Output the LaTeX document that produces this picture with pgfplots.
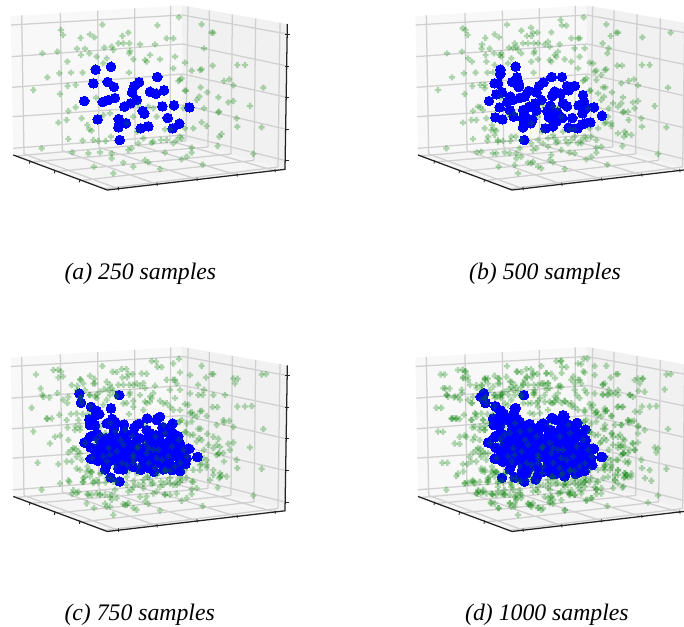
\documentclass[border=0pt]{standalone}
\usepackage{pgfplots}
\usepackage{pgfplotstable}
\usepackage{fontspec}
\setmainfont{Liberation Serif}
\pgfplotsset{compat=1.18}
% coordinates: pixels x 3, measured from each panel's corner
\pgfplotstableread[row sep=\\]{x y\\
287 209\\333 200\\323 246\\280 250\\342 261\\417 247\\403 258\\396 277\\472 231\\450 275\\468 281\\492 271\\253 303\\345 294\\325 300\\308 306\\410 300\\392 310\\373 320\\487 319\\522 316\\568 322\\428 333\\433 341\\293 358\\356 357\\378 370\\355 382\\503 354\\538 371\\518 385\\445 379\\422 385\\359 420\\
}\tBa
\pgfplotstableread[row sep=\\]{x y\\
287 222\\337 232\\270 250\\343 252\\372 273\\441 231\\487 258\\510 258\\443 288\\535 285\\538 305\\275 283\\292 277\\317 290\\360 290\\285 322\\315 330\\327 350\\272 352\\355 330\\395 332\\437 317\\433 352\\458 337\\475 310\\543 325\\592 347\\533 340\\473 354\\557 367\\533 373\\492 383\\455 365\\383 358\\360 345\\
}\tBb
\pgfplotstableread[row sep=\\]{x y\\
238 156\\243 184\\358 161\\273 196\\290 208\\298 218\\333 201\\268 233\\270 251\\285 251\\442 231\\480 226\\470 236\\518 246\\372 249\\320 246\\345 241\\410 251\\490 258\\535 284\\290 286\\270 286\\272 318\\285 326\\275 351\\315 384\\332 408\\325 306\\300 296\\350 296\\380 286\\420 291\\460 281\\440 266\\510 294\\540 306\\565 321\\593 346\\560 351\\545 336\\540 389\\515 386\\490 384\\462 391\\420 384\\400 376\\370 384\\355 381\\320 336\\340 356\\380 346\\420 346\\460 346\\500 336\\440 316\\480 316\\360 316\\400 316\\520 316\\345 336\\430 366\\470 366\\510 366\\540 366\\300 356\\
300 320\\340 320\\380 300\\420 320\\460 310\\500 310\\320 370\\360 370\\400 350\\440 350\\480 340\\520 345\\380 330\\300 336\\340 276\\400 276\\480 296\\520 276\\455 330\\500 360\\
}\tBc
\pgfplotstableread[row sep=\\]{x y\\
237 156\\228 166\\242 184\\272 194\\285 206\\297 216\\330 201\\327 216\\357 161\\265 231\\267 251\\285 256\\305 236\\375 248\\415 246\\441 229\\475 221\\455 236\\518 244\\495 251\\543 264\\543 296\\565 321\\590 346\\563 371\\550 351\\513 398\\485 391\\455 396\\445 398\\393 414\\357 418\\330 408\\292 409\\315 384\\275 286\\250 303\\280 321\\270 351\\295 361\\335 286\\365 276\\395 286\\430 286\\475 286\\515 286\\535 316\\365 306\\405 306\\435 316\\485 316\\505 331\\335 336\\375 336\\415 346\\455 346\\495 366\\530 356\\355 376\\395 376\\435 376\\475 366\\525 391\\365 396\\415 391\\315 316\\455 276\\495 276\\385 261\\
300 300\\340 350\\430 330\\470 330\\510 310\\350 395\\400 400\\440 395\\480 405\\510 380\\540 340\\320 270\\350 255\\430 265\\470 255\\
}\tBd
\pgfplotstableread[row sep=\\]{x y\\
183 90\\189 105\\307 74\\472 76\\537 52\\605 73\\635 98\\640 98\\385 98\\367 108\\270 103\\283 112\\242 114\\500 115\\520 115\\127 160\\172 155\\231 146\\255 146\\243 165\\268 160\\290 170\\313 143\\335 140\\340 150\\355 130\\370 130\\388 130\\420 133\\465 133\\450 165\\390 153\\388 160\\400 178\\435 180\\440 185\\480 178\\525 170\\555 188\\612 145\\712 195\\735 195\\202 185\\320 175\\310 190\\178 220\\142 232\\213 218\\248 218\\387 218\\520 205\\575 212\\600 210\\605 208\\638 197\\545 235\\535 243\\540 240\\672 243\\688 238\\700 256\\790 263\\100 270\\180 282\\203 258\\227 255\\288 293\\555 272\\558 272\\602 262\\622 277\\598 290\\590 300\\655 292\\685 307\\700 303\\750 318\\612 325\\655 337\\657 335\\550 325\\205 333\\227 322\\175 368\\200 360\\245 355\\310 345\\330 340\\460 325\\470 350\\400 350\\710 355\\605 367\\620 378\\712 380\\785 382\\262 375\\268 388\\275 392\\495 388\\555 385\\580 385\\205 417\\248 422\\280 420\\295 423\\317 423\\333 410\\430 415\\412 395\\455 428\\460 425\\483 420\\500 420\\520 430\\545 415\\540 410\\530 420\\665 402\\658 410\\653 438\\575 443\\125 445\\217 457\\265 460\\300 457\\335 460\\385 450\\395 445\\415 430\\495 458\\575 458\\560 470\\545 478\\335 475\\370 488\\435 480\\445 487\\400 500\\282 500\\480 507\\608 494\\340 520\\760 462\\510 388\\415 315\\445 320\\380 370\\
}\tGa
\pgfplotstableread[row sep=\\]{x y\\
174 85\\350 92\\379 83\\398 98\\381 108\\440 97\\468 60\\485 77\\618 108\\713 112\\798 98\\594 130\\608 160\\652 197\\232 133\\190 175\\245 185\\270 195\\265 217\\240 255\\240 265\\285 165\\290 160\\330 130\\325 145\\350 160\\380 185\\400 130\\430 125\\435 140\\460 155\\455 170\\500 185\\525 115\\510 145\\540 145\\565 190\\570 215\\590 225\\575 240\\595 262\\580 280\\650 250\\625 310\\650 310\\670 335\\672 360\\690 325\\640 320\\620 370\\640 400\\660 395\\680 405\\600 370\\220 320\\235 330\\215 360\\240 385\\260 390\\270 405\\250 410\\280 425\\230 455\\275 460\\315 460\\345 445\\350 470\\380 490\\385 485\\330 495\\410 505\\440 465\\470 450\\510 460\\590 440\\575 420\\560 410\\530 430\\490 430\\450 415\\430 440\\400 420\\380 430\\350 420\\320 410\\445 405\\475 395\\510 410\\610 350\\
}\tGb
\pgfplotstableread[row sep=\\]{x y\\
108 99\\160 86\\175 108\\240 114\\365 83\\338 91\\425 96\\455 59\\520 66\\540 93\\570 101\\700 111\\705 126\\785 99\\122 141\\130 166\\148 168\\215 131\\205 166\\95 199\\140 231\\155 231\\200 236\\235 236\\225 266\\150 306\\165 286\\205 296\\113 364\\250 126\\280 126\\320 121\\350 166\\420 161\\450 181\\490 186\\530 126\\570 156\\595 161\\640 161\\675 161\\755 194\\620 224\\670 236\\640 286\\605 296\\660 316\\215 326\\240 336\\230 381\\255 406\\180 426\\208 421\\235 451\\220 446\\262 458\\290 456\\300 461\\330 466\\315 486\\320 496\\260 486\\375 491\\420 466\\460 456\\530 456\\495 461\\430 426\\400 436\\480 436\\540 421\\580 421\\630 416\\660 406\\640 386\\600 386\\650 341\\620 356\\570 281\\560 246\\580 221\\540 206\\510 196\\430 206\\400 196\\370 186\\330 161\\300 151\\270 161\\240 171\\230 216\\285 126\\410 126\\300 396\\290 416\\250 421\\380 406\\340 421\\470 401\\510 426\\440 406\\275 391\\230 346\\
}\tGc
\pgfplotstableread[row sep=\\]{x y\\
120 99\\135 141\\160 166\\190 116\\110 199\\155 231\\165 233\\215 226\\115 271\\165 308\\185 286\\210 286\\128 364\\188 368\\155 404\\160 396\\190 424\\210 426\\250 111\\305 106\\410 74\\360 116\\530 68\\548 51\\470 58\\570 74\\595 129\\640 146\\690 116\\715 111\\720 151\\780 144\\620 156\\655 196\\705 211\\685 166\\600 201\\540 211\\760 321\\755 333\\735 386\\740 418\\690 326\\680 396\\640 426\\590 456\\730 483\\640 386\\610 406\\570 436\\530 446\\490 451\\510 461\\440 466\\400 451\\350 461\\320 436\\300 446\\240 391\\250 416\\225 421\\245 456\\280 436\\270 486\\330 486\\380 496\\415 501\\470 476\\500 446\\540 436\\290 161\\320 136\\350 136\\390 146\\430 126\\470 136\\510 126\\460 176\\420 181\\300 186\\250 246\\240 266\\210 256\\225 296\\225 336\\250 336\\195 346\\600 126\\650 251\\625 286\\650 316\\640 356\\670 366\\660 296\\700 276\\720 266\\280 396\\370 416\\440 426\\480 426\\520 416\\555 421\\600 376\\230 176\\
}\tGd
\pgfplotstableread[row sep=\\]{x y\\
116 140\\126 160\\151 165\\171 145\\166 175\\196 130\\216 140\\176 110\\181 90\\241 110\\231 130\\266 135\\281 110\\336 90\\316 120\\291 155\\276 165\\271 170\\311 160\\366 105\\386 95\\426 95\\451 110\\471 95\\506 105\\536 90\\416 125\\356 125\\386 155\\406 170\\426 145\\461 135\\481 180\\471 185\\501 195\\516 160\\546 155\\211 215\\201 185\\146 230\\236 235\\201 235\\356 185\\376 215\\406 215\\446 185\\396 185\\
181 425\\201 420\\221 450\\216 455\\236 445\\261 457\\281 450\\296 457\\326 445\\346 455\\321 430\\336 470\\316 485\\371 485\\281 500\\258 483\\401 498\\431 470\\446 475\\436 445\\466 455\\496 455\\476 430\\521 440\\541 420\\576 445\\546 475\\561 470\\481 505\\626 440\\656 435\\631 415\\666 400\\596 410\\436 485\\176 390\\231 388\\266 395\\
594 158\\611 158\\631 155\\676 160\\701 148\\641 195\\691 210\\671 237\\681 240\\701 253\\606 207\\576 210\\561 200\\621 223\\601 250\\631 250\\621 275\\646 280\\586 305\\641 310\\656 335\\674 325\\684 305\\636 355\\661 360\\631 400\\661 395\\671 407\\721 410\\596 380\\616 385\\
}\tGe
\pgfplotstableread[row sep=\\]{x y\\
316 275\\346 270\\376 265\\286 305\\326 320\\361 295\\396 285\\411 320\\366 365\\321 360\\351 330\\436 305\\466 285\\496 275\\516 315\\536 295\\486 355\\446 365\\416 375\\386 390\\496 385\\541 365\\561 345\\306 395\\276 350\\256 305\\301 255\\331 245\\436 250\\491 250\\
300 280\\370 310\\400 340\\440 335\\475 325\\505 345\\345 375\\400 365\\465 380\\525 375\\
}\tGf
\definecolor{paneL}{RGB}{248,248,248}
\definecolor{paneR}{RGB}{241,241,241}
\definecolor{paneF}{RGB}{245,245,245}
\definecolor{gridc}{RGB}{208,208,208}
\definecolor{spine}{RGB}{35,35,35}
\definecolor{mgreen}{RGB}{0,128,0}
\pgfdeclareplotmark{fatplus}{%
  \pgfpathmoveto{\pgfqpoint{-2.3pt}{-0.9pt}}
  \pgfpathlineto{\pgfqpoint{-0.9pt}{-0.9pt}}
  \pgfpathlineto{\pgfqpoint{-0.9pt}{-2.3pt}}
  \pgfpathlineto{\pgfqpoint{0.9pt}{-2.3pt}}
  \pgfpathlineto{\pgfqpoint{0.9pt}{-0.9pt}}
  \pgfpathlineto{\pgfqpoint{2.3pt}{-0.9pt}}
  \pgfpathlineto{\pgfqpoint{2.3pt}{0.9pt}}
  \pgfpathlineto{\pgfqpoint{0.9pt}{0.9pt}}
  \pgfpathlineto{\pgfqpoint{0.9pt}{2.3pt}}
  \pgfpathlineto{\pgfqpoint{-0.9pt}{2.3pt}}
  \pgfpathlineto{\pgfqpoint{-0.9pt}{0.9pt}}
  \pgfpathlineto{\pgfqpoint{-2.3pt}{0.9pt}}
  \pgfpathclose
  \pgfusepathqfill}
\pgfplotsset{
  panel/.style={scale only axis,hide axis,anchor=north west,y dir=reverse,xmin=0,ymin=0,ymax=720,height=180pt,clip=true},
  narrow/.style={width=209.5pt,xmax=838},
  wide/.style={width=225pt,xmax=900},
  gl/.style={draw=gridc,line width=0.95pt,no marks},
  sp/.style={draw=spine,line width=0.95pt,no marks},
  tk/.style={draw=spine,line width=0.6pt,no marks},
  bm/.style={only marks,mark=*,mark size=3.6pt,color=blue,mark options={fill=blue,draw=blue,line width=0pt}},
  gm/.style={only marks,mark=fatplus,color=mgreen,mark options={fill=mgreen,draw=none,fill opacity=0.3}},
}
\newcommand\panelbg{%
  \addplot[fill=paneL,draw=none] coordinates {(32,48)(546,16)(549,420)(40,465)} --cycle;
  \addplot[fill=paneR,draw=none] coordinates {(546,16)(861,72)(855,508)(549,420)} --cycle;
  \addplot[fill=paneF,draw=none] coordinates {(40,465)(322,570)(855,508)(549,420)} --cycle;
  \addplot[gl] coordinates {(65,46)(72,462)};
  \addplot[gl] coordinates {(181,39)(187,452)};
  \addplot[gl] coordinates {(293,32)(297,442)};
  \addplot[gl] coordinates {(404,25)(405,433)};
  \addplot[gl] coordinates {(512,18)(510,423)};
  \addplot[gl] coordinates {(564,19)(558,423)};
  \addplot[gl] coordinates {(628,31)(624,441)};
  \addplot[gl] coordinates {(697,43)(693,462)};
  \addplot[gl] coordinates {(767,55)(762,481)};
  \addplot[gl] coordinates {(840,68)(834,501)};
  \addplot[gl] coordinates {(33,75)(547,45)(861,102)};
  \addplot[gl] coordinates {(35,170)(548,132)(861,198)};
  \addplot[gl] coordinates {(36,262)(548,222)(860,292)};
  \addplot[gl] coordinates {(38,350)(548,315)(859,388)};
  \addplot[gl] coordinates {(39,445)(549,405)(857,482)};
  \addplot[gl] coordinates {(72,462)(355,566)};
  \addplot[gl] coordinates {(187,452)(471,553)};
  \addplot[gl] coordinates {(297,442)(591,538)};
  \addplot[gl] coordinates {(405,433)(711,525)};
  \addplot[gl] coordinates {(510,423)(825,512)};
  \addplot[gl] coordinates {(558,423)(48,468)};
  \addplot[gl] coordinates {(624,441)(90,486)};
  \addplot[gl] coordinates {(693,462)(165,515)};
  \addplot[gl] coordinates {(762,481)(240,542)};
  \addplot[gl] coordinates {(834,501)(310,567)};
  \addplot[sp] coordinates {(40,465)(322,570)(855,508)(862,72)};
  \addplot[tk] coordinates {(855,102)(869,102)};
  \addplot[tk] coordinates {(855,198)(868,198)};
  \addplot[tk] coordinates {(855,292)(868,292)};
  \addplot[tk] coordinates {(855,388)(867,388)};
  \addplot[tk] coordinates {(855,482)(866,482)};
  \addplot[tk] coordinates {(355,561)(356,571)};
  \addplot[tk] coordinates {(471,548)(472,558)};
  \addplot[tk] coordinates {(591,533)(592,543)};
  \addplot[tk] coordinates {(711,520)(712,530)};
  \addplot[tk] coordinates {(825,507)(826,517)};
  \addplot[tk] coordinates {(90,481)(88,491)};
  \addplot[tk] coordinates {(165,510)(163,520)};
  \addplot[tk] coordinates {(240,537)(238,547)};
}
\newcommand\blueA{\addplot[bm] table[x=x,y=y] {\tBa};}
\newcommand\blueB{\addplot[bm] table[x=x,y=y] {\tBb};}
\newcommand\blueC{\addplot[bm] table[x=x,y=y] {\tBc};}
\newcommand\blueD{\addplot[bm] table[x=x,y=y] {\tBd};}
\newcommand\greenA{\addplot[gm] table[x=x,y=y] {\tGa};}
\newcommand\greenB{\addplot[gm] table[x=x,y=y] {\tGb};}
\newcommand\greenC{\addplot[gm] table[x=x,y=y] {\tGc};}
\newcommand\greenD{\addplot[gm] table[x=x,y=y] {\tGd};}
\newcommand\greenE{\addplot[gm] table[x=x,y=y] {\tGe};}
\newcommand\greenF{\addplot[gm] table[x=x,y=y] {\tGf};}
\begin{document}
\begin{tikzpicture}[x=1pt,y=1pt]
\useasboundingbox (0,0) rectangle (513,-470.25);
\begin{axis}[panel,wide,at={(0pt,0pt)}]
  \panelbg \blueA \greenA
\end{axis}
\begin{axis}[panel,narrow,at={(303.5pt,0pt)}]
  \panelbg \blueA \blueB \greenA \greenB
\end{axis}
\begin{axis}[panel,wide,at={(0pt,-256.1pt)}]
  \panelbg \blueA \blueB \blueC \greenA \greenB \greenC \greenF
\end{axis}
\begin{axis}[panel,narrow,at={(303.5pt,-256.1pt)}]
  \panelbg \blueA \blueB \blueC \blueD \greenA \greenB \greenC \greenD \greenE \greenF
\end{axis}
\node[anchor=base west,inner sep=0pt,font=\fontsize{17.8pt}{20pt}\selectfont\itshape] at (48.2,-209.5) {(a) 250 samples};
\node[anchor=base west,inner sep=0pt,font=\fontsize{17.8pt}{20pt}\selectfont\itshape] at (351.7,-209.5) {(b) 500 samples};
\node[anchor=base west,inner sep=0pt,font=\fontsize{17.8pt}{20pt}\selectfont\itshape] at (48.2,-465.1) {(c) 750 samples};
\node[anchor=base west,inner sep=0pt,font=\fontsize{17.8pt}{20pt}\selectfont\itshape] at (348.7,-465.1) {(d) 1000 samples};
\end{tikzpicture}
\end{document}
